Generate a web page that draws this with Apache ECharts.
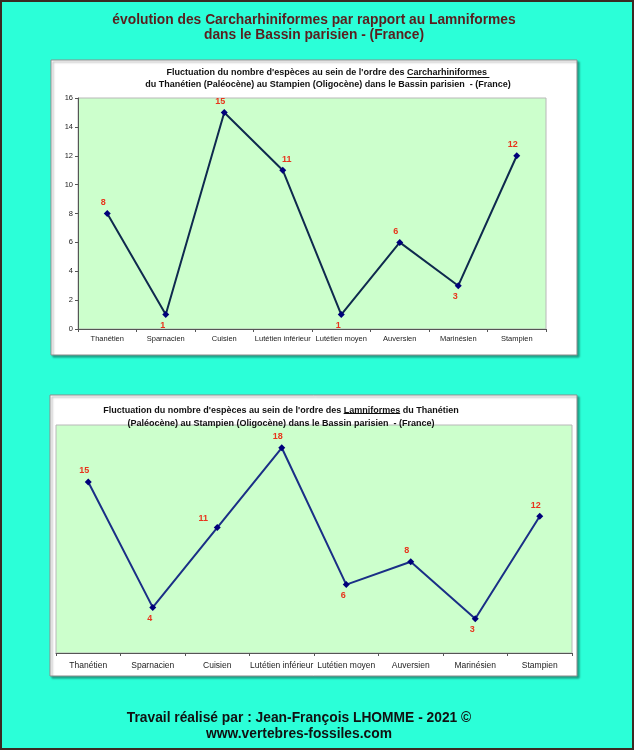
<!DOCTYPE html>
<html>
<head>
<meta charset="utf-8">
<script src="https://cdn.jsdelivr.net/npm/echarts@6/dist/echarts.min.js"></script>
<style>
  html, body { margin: 0; padding: 0; background: #2bffd8; }
  #main { width: 634px; height: 750px; }
</style>
</head>
<body>
<div id="main"></div>
<script>
// étages (abscisses communes aux deux graphiques)
const etages = ['Thanétien', 'Sparnacien', 'Cuisien', 'Lutétien inférieur', 'Lutétien moyen', 'Auversien', 'Marinésien', 'Stampien'];
// nombre d'espèces
const carcharhiniformes = [8, 1, 15, 11, 1, 6, 3, 12];
const lamniformes = [15, 4, 11, 18, 6, 8, 3, 12];
// graduations du premier graphique
const yTicks1 = [0, 2, 4, 6, 8, 10, 12, 14, 16];

const FONT = 'Arial, Liberation Sans';
const sub1 = ["Fluctuation du nombre d'espèces au sein de l'ordre des ", 'Carcharhiniformes ', ''];
const sub1b = 'du Thanétien (Paléocène) au Stampien (Oligocène) dans le Bassin parisien  - (France)';
const sub2 = ["Fluctuation du nombre d'espèces au sein de l'ordre des ", 'Lamniformes', ' du Thanétien'];
const sub2b = '(Paléocène) au Stampien (Oligocène) dans le Bassin parisien  - (France)';

const myChart = echarts.init(document.getElementById('main'));

// mesure du texte pour placer le soulignement (titre centré sur left + padding 5)
const ctx = document.createElement('canvas').getContext('2d');
ctx.font = 'bold 9px ' + FONT;
const underline = (parts, left, y) => {
  const cx = left + 5;
  const full = ctx.measureText(parts.join('')).width;
  const x1 = cx - full / 2 + ctx.measureText(parts[0]).width;
  const x2 = x1 + ctx.measureText(parts[1]).width;
  return { type: 'line', z: 10, shape: { x1, y1: y, x2, y2: y }, style: { stroke: '#111', lineWidth: 1 } };
};

// étiquette au-dessus ou en dessous du point selon les voisins
const withLabels = (vals) => vals.map((v, i) => {
  const prev = vals[i - 1];
  const next = vals[i + 1];
  let label = { position: 'top', offset: [-4, 0] };
  if (prev !== undefined && next !== undefined) {
    if (v < prev && v < next) label = { position: 'bottom', offset: [-3, 0] };
    else if (prev < v && v < next) label = { position: 'top', offset: [-14, 2] };
    else if (prev > v && v > next) label = { position: 'top', offset: [4, 0] };
  }
  return { value: v, label };
});

const lineSerie = (vals, idx) => ({
  type: 'line',
  xAxisIndex: idx,
  yAxisIndex: idx,
  data: withLabels(vals),
  symbol: 'diamond',
  symbolSize: 7,
  lineStyle: { color: idx === 0 ? '#0f2a4e' : '#1a2f86', width: 2 },
  itemStyle: { color: '#00007a' },
  label: {
    show: true,
    distance: 3,
    color: '#e8341c',
    fontSize: 9,
    fontWeight: 'bold',
    fontFamily: FONT,
  },
  animation: false,
});

const xAxisBase = (idx, fs, margin) => ({
  type: 'category',
  gridIndex: idx,
  data: etages,
  axisLine: { lineStyle: { color: '#555', width: 1 } },
  axisTick: { show: true, length: 3, lineStyle: { color: '#555' } },
  axisLabel: { color: '#222', fontSize: fs, margin: margin, interval: 0, fontFamily: FONT },
});

const options = {
  backgroundColor: '#2bffd8',
  title: [
    {
      text: 'évolution des Carcharhiniformes par rapport au Lamniformes\ndans le Bassin parisien - (France)',
      left: 309, top: 8, textAlign: 'center',
      textStyle: { color: '#5a1e1e', fontSize: 13.8, fontWeight: 'bold', lineHeight: 15, fontFamily: FONT },
    },
    {
      text: sub1.join('') + '\n' + sub1b,
      left: 323, top: 61, textAlign: 'center',
      textStyle: { color: '#111', fontSize: 9, fontWeight: 'bold', lineHeight: 12.5, fontFamily: FONT },
    },
    {
      text: sub2.join('') + '\n' + sub2b,
      left: 276, top: 399, textAlign: 'center',
      textStyle: { color: '#111', fontSize: 9, fontWeight: 'bold', lineHeight: 13, fontFamily: FONT },
    },
    {
      text: 'Travail réalisé par : Jean-François LHOMME - 2021 ©\nwww.vertebres-fossiles.com',
      left: 294, top: 705, textAlign: 'center',
      textStyle: { color: '#111', fontSize: 13.8, fontWeight: 'bold', lineHeight: 16, fontFamily: FONT },
    },
  ],
  graphic: [
    { type: 'rect', z: -10, shape: { x: 1, y: 1, width: 632, height: 748 },
      style: { fill: 'none', stroke: '#3b2a22', lineWidth: 2 } },
    { type: 'rect', z: -10, shape: { x: 51, y: 60, width: 526, height: 295 },
      style: { fill: '#fff', stroke: '#8c8c8c', lineWidth: 1, shadowBlur: 2, shadowOffsetX: 2, shadowOffsetY: 2, shadowColor: 'rgba(0,0,0,0.35)' } },
    { type: 'rect', z: -10, shape: { x: 50, y: 395, width: 527, height: 281 },
      style: { fill: '#fff', stroke: '#8c8c8c', lineWidth: 1, shadowBlur: 2, shadowOffsetX: 2, shadowOffsetY: 2, shadowColor: 'rgba(0,0,0,0.35)' } },
    // soulignements
    underline(sub1, 323, 77.5),
    underline(sub2, 276, 413.5),
  ],
  grid: [
    { left: 78, top: 98, width: 468, height: 231, show: true, backgroundColor: '#ccffcc', borderColor: '#b8b8b8', borderWidth: 1 },
    { left: 56, top: 425, width: 516, height: 228, show: true, backgroundColor: '#ccffcc', borderColor: '#b8b8b8', borderWidth: 1 },
  ],
  xAxis: [xAxisBase(0, 7.5, 6), xAxisBase(1, 8.5, 8)],
  yAxis: [
    {
      type: 'value',
      gridIndex: 0,
      min: yTicks1[0],
      max: yTicks1[yTicks1.length - 1],
      interval: 2,
      splitLine: { show: false },
      axisLine: { show: true, lineStyle: { color: '#555' } },
      axisTick: { show: true, length: 3, lineStyle: { color: '#555' } },
      axisLabel: { color: '#222', fontSize: 7.5, margin: 5, fontFamily: FONT },
    },
    {
      type: 'value',
      gridIndex: 1,
      min: 0,
      max: 20,
      show: false,
      splitLine: { show: false },
    },
  ],
  series: [lineSerie(carcharhiniformes, 0), lineSerie(lamniformes, 1)],
};

myChart.setOption(options);

window.addEventListener('resize', () => {
  myChart.resize();
});
</script>
</body>
</html>
